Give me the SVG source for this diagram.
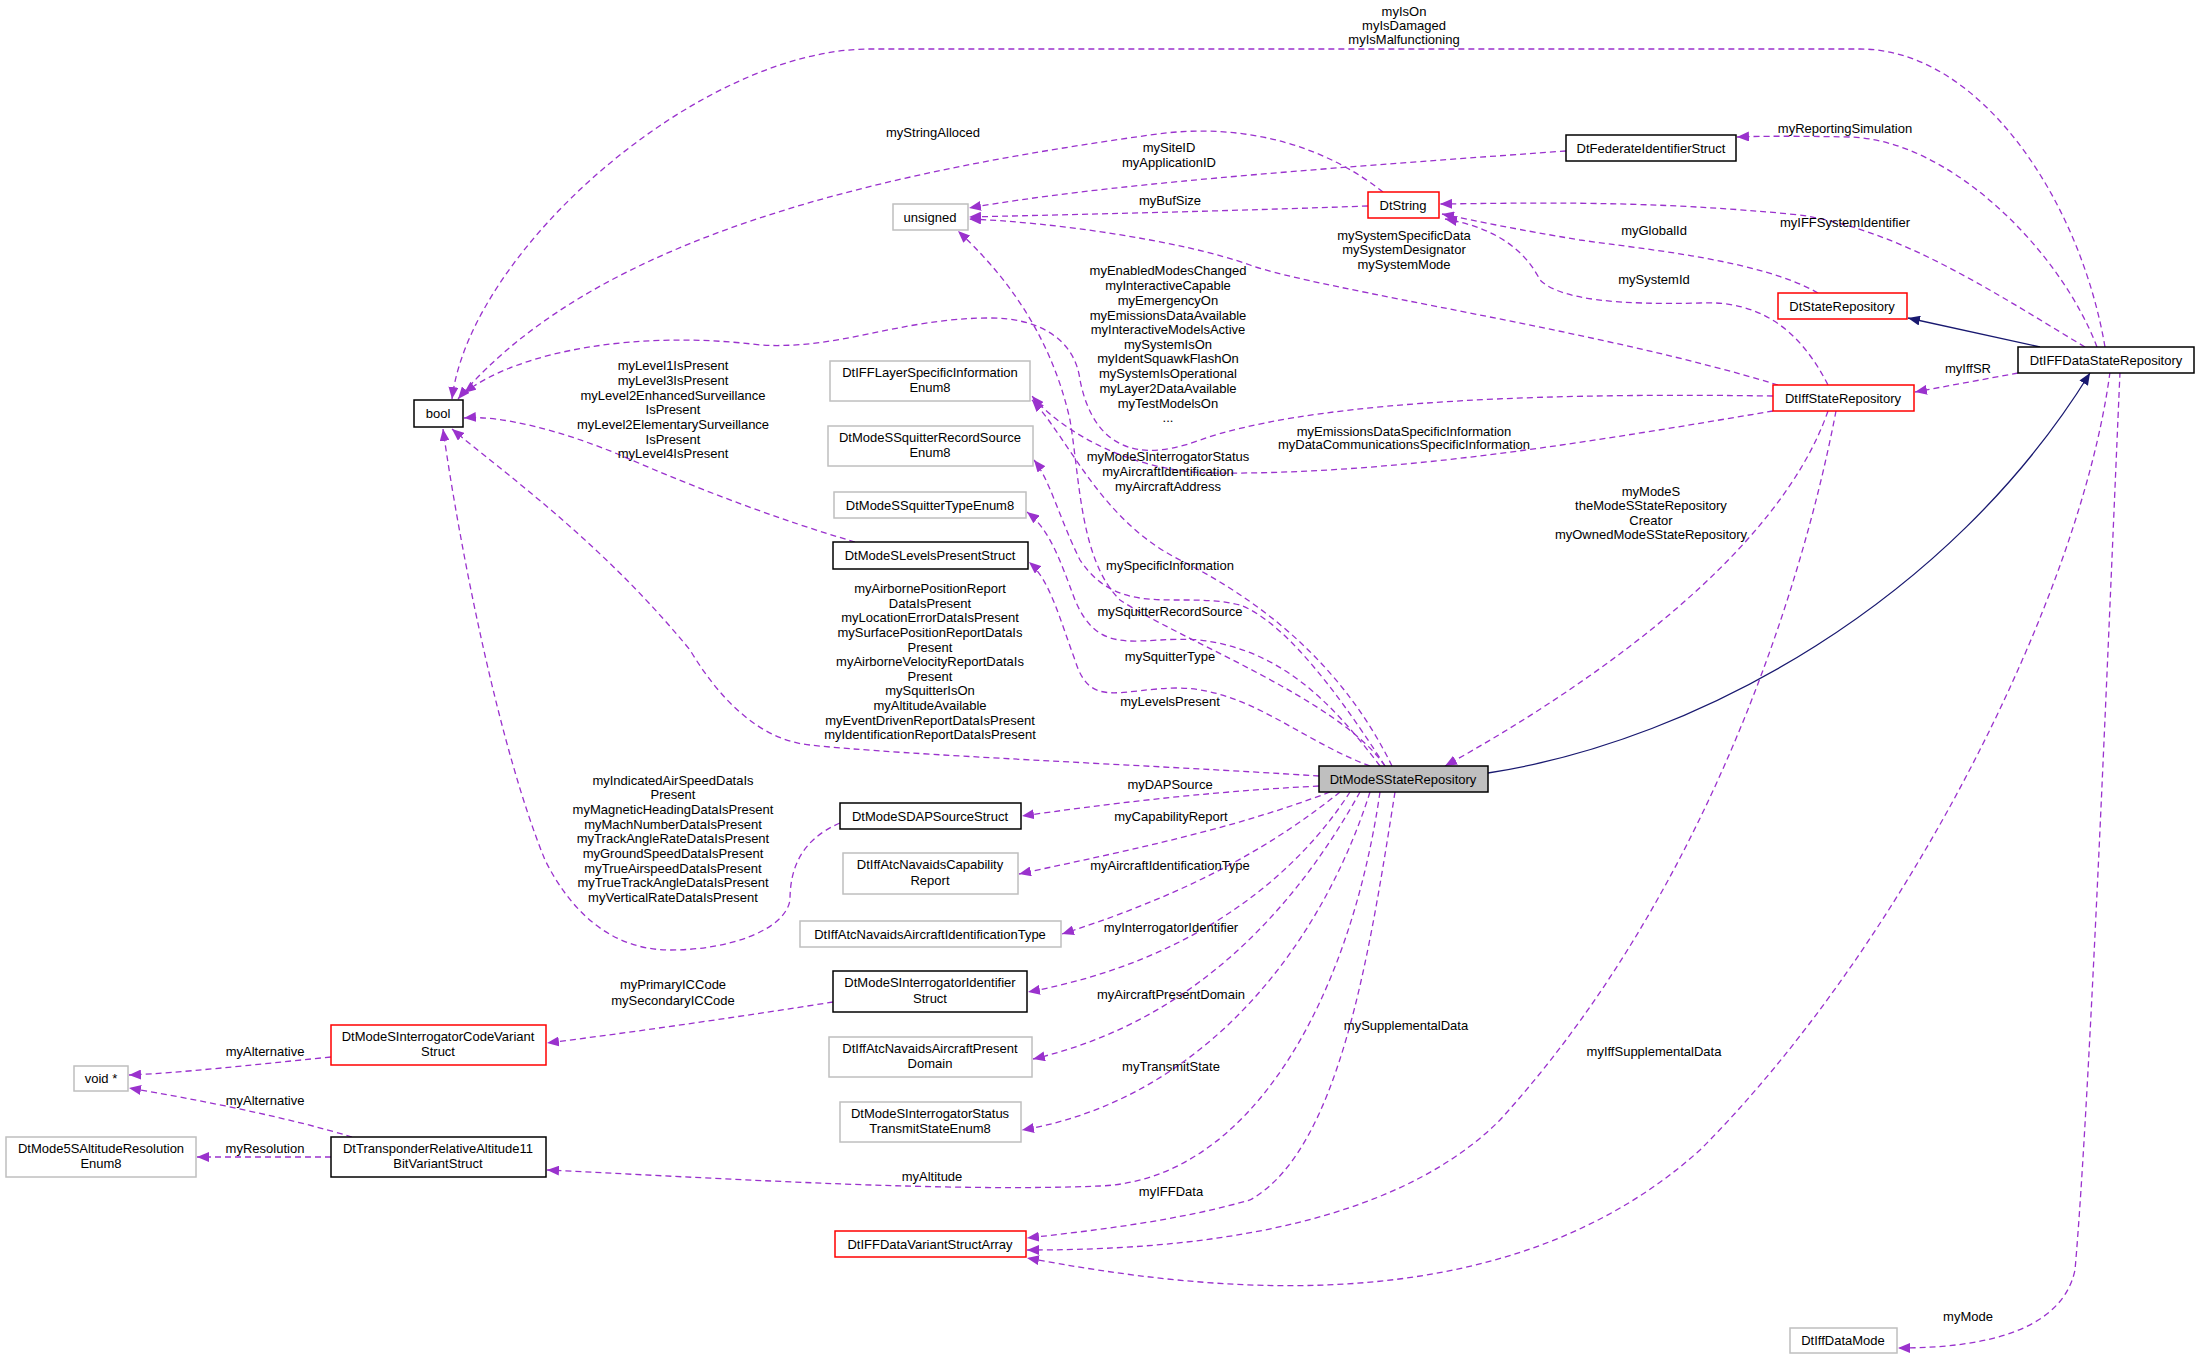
<svg xmlns="http://www.w3.org/2000/svg" width="2211" height="1360" viewBox="0 0 2211 1360">
<defs>
<marker id="ap" markerUnits="userSpaceOnUse" markerWidth="12" markerHeight="10" refX="12" refY="5" orient="auto"><path d="M0,0 L12,5 L0,10 z" fill="#9a32cd"/></marker>
<marker id="an" markerUnits="userSpaceOnUse" markerWidth="12" markerHeight="10" refX="12" refY="5" orient="auto"><path d="M0,0 L12,5 L0,10 z" fill="#191970"/></marker>
</defs>
<style>
text{font-family:"Liberation Sans",Arial,sans-serif;font-size:13px;fill:#000;text-anchor:middle}
.n rect{fill:#fff;stroke-width:1.5}
.b rect{stroke:#000}
.g rect{stroke:#bfbfbf}
.r rect{stroke:#ff0000}
.e path{fill:none;stroke:#9a32cd;stroke-width:1.3;stroke-dasharray:6,4;marker-end:url(#ap)}
.e path.i{stroke:#191970;stroke-dasharray:none;marker-end:url(#an)}
</style>
<rect width="2211" height="1360" fill="#fff"/>
<g id="edges" class="e">
<path d="M2105,347 C2080,200 1980,49 1860,49 L870,49 C700,49 470,250 452,399"/>
<path d="M1383,192 C1330,150 1250,120 1150,135 C900,170 600,230 458,399"/>
<path d="M1566,151 C1300,170 1100,185 969,208"/>
<path d="M1368,206 C1200,212 1050,215 969,217"/>
<path d="M1778,385 C1600,330 1320,290 1250,265 C1180,240 1050,222 969,219"/>
<path d="M2097,347 C2060,250 1950,140 1850,137 C1800,136 1760,136 1737,137"/>
<path d="M2085,347 C1990,290 1900,230 1800,215 C1650,200 1530,203 1440,204"/>
<path d="M1818,293 C1760,260 1650,250 1580,240 C1520,230 1480,222 1442,214"/>
<path d="M1828,385 C1800,330 1760,300 1700,303 C1620,305 1560,300 1540,280 C1520,240 1480,225 1445,219"/>
<path class="i" d="M2040,347 L1908,318"/>
<path d="M2018,373 L1915,392"/>
<path d="M1773,396 C1500,392 1300,405 1200,440 C1120,470 1090,430 1080,380 C1075,340 1040,318 990,318 C900,318 840,350 760,345 C640,330 520,350 464,393"/>
<path d="M1773,411 C1600,440 1400,475 1213,473 C1130,472 1060,430 1032,396"/>
<path d="M1385,766 C1340,700 1180,640 1120,600 C1080,560 1080,480 1070,420 C1050,330 1000,270 958,231"/>
<path d="M1392,766 C1350,680 1280,610 1180,560 C1100,520 1070,440 1032,400"/>
<path d="M1385,766 C1330,680 1280,620 1240,605 C1180,590 1120,620 1080,560 C1060,520 1050,480 1034,460"/>
<path d="M1380,766 C1330,700 1280,650 1200,640 C1140,635 1100,660 1075,600 C1060,560 1050,530 1027,512"/>
<path d="M1370,766 C1300,740 1250,690 1180,688 C1120,688 1090,710 1075,660 C1060,620 1050,580 1029,562"/>
<path d="M855,542 C780,520 700,490 620,455 C560,430 500,415 464,418"/>
<path d="M1319,776 C1150,765 900,755 810,745 C760,740 720,700 690,650 C600,540 500,470 452,429"/>
<path d="M1319,786 C1200,792 1100,805 1022,816"/>
<path d="M840,823 C800,840 790,870 790,900 C785,930 730,950 670,950 C610,950 570,910 545,860 C500,750 460,550 443,429"/>
<path d="M1330,792 C1230,830 1130,850 1019,874"/>
<path d="M1340,792 C1280,840 1200,890 1062,934"/>
<path d="M1350,792 C1300,870 1200,960 1028,992"/>
<path d="M833,1002 C750,1015 650,1030 547,1043"/>
<path d="M331,1057 C250,1065 180,1073 129,1075"/>
<path d="M352,1137 C290,1118 200,1100 129,1088"/>
<path d="M331,1157 L197,1157"/>
<path d="M1360,792 C1300,900 1200,1020 1033,1059"/>
<path d="M1370,792 C1320,950 1200,1100 1022,1130"/>
<path d="M1380,792 C1350,1000 1250,1180 1100,1186 C950,1192 750,1180 547,1170"/>
<path d="M1395,792 C1370,950 1340,1150 1250,1200 C1180,1220 1100,1230 1027,1238"/>
<path d="M1836,411 C1800,600 1700,900 1500,1120 C1380,1240 1150,1250 1027,1250"/>
<path d="M2110,372 C2080,600 1900,950 1700,1150 C1500,1330 1200,1290 1027,1258"/>
<path d="M2120,372 C2110,600 2090,1100 2075,1270 C2060,1340 1960,1348 1898,1348"/>
<path d="M1828,411 C1780,550 1600,680 1445,766"/>
<path class="i" d="M1488,773 C1700,740 1950,600 2090,373"/>
</g>
<g id="labels">
<text x="1404" y="16">myIsOn</text><text x="1404" y="30">myIsDamaged</text><text x="1404" y="44">myIsMalfunctioning</text>
<text x="933" y="137">myStringAlloced</text>
<text x="1169" y="152">mySiteID</text><text x="1169" y="167">myApplicationID</text>
<text x="1170" y="205">myBufSize</text>
<text x="1404" y="240">mySystemSpecificData</text><text x="1404" y="254">mySystemDesignator</text><text x="1404" y="269">mySystemMode</text>
<text x="1845" y="133">myReportingSimulation</text>
<text x="1845" y="227">myIFFSystemIdentifier</text>
<text x="1654" y="235">myGlobalId</text>
<text x="1654" y="284">mySystemId</text>
<text x="1968" y="373">myIffSR</text>
<text x="1168" y="275">myEnabledModesChanged</text><text x="1168" y="290">myInteractiveCapable</text><text x="1168" y="305">myEmergencyOn</text><text x="1168" y="320">myEmissionsDataAvailable</text><text x="1168" y="334">myInteractiveModelsActive</text><text x="1168" y="349">mySystemIsOn</text><text x="1168" y="363">myIdentSquawkFlashOn</text><text x="1168" y="378">mySystemIsOperational</text><text x="1168" y="393">myLayer2DataAvailable</text><text x="1168" y="408">myTestModelsOn</text><text x="1168" y="422">...</text>
<text x="1404" y="436">myEmissionsDataSpecificInformation</text><text x="1404" y="449">myDataCommunicationsSpecificInformation</text>
<text x="1168" y="461">myModeSInterrogatorStatus</text><text x="1168" y="476">myAircraftIdentification</text><text x="1168" y="491">myAircraftAddress</text>
<text x="1651" y="496">myModeS</text><text x="1651" y="510">theModeSStateRepository</text><text x="1651" y="525">Creator</text><text x="1651" y="539">myOwnedModeSStateRepository</text>
<text x="1170" y="570">mySpecificInformation</text>
<text x="1170" y="616">mySquitterRecordSource</text>
<text x="1170" y="661">mySquitterType</text>
<text x="1170" y="706">myLevelsPresent</text>
<text x="673" y="370">myLevel1IsPresent</text><text x="673" y="385">myLevel3IsPresent</text><text x="673" y="400">myLevel2EnhancedSurveillance</text><text x="673" y="414">IsPresent</text><text x="673" y="429">myLevel2ElementarySurveillance</text><text x="673" y="444">IsPresent</text><text x="673" y="458">myLevel4IsPresent</text>
<text x="930" y="593">myAirbornePositionReport</text><text x="930" y="608">DataIsPresent</text><text x="930" y="622">myLocationErrorDataIsPresent</text><text x="930" y="637">mySurfacePositionReportDataIs</text><text x="930" y="652">Present</text><text x="930" y="666">myAirborneVelocityReportDataIs</text><text x="930" y="681">Present</text><text x="930" y="695">mySquitterIsOn</text><text x="930" y="710">myAltitudeAvailable</text><text x="930" y="725">myEventDrivenReportDataIsPresent</text><text x="930" y="739">myIdentificationReportDataIsPresent</text>
<text x="1170" y="789">myDAPSource</text>
<text x="673" y="785">myIndicatedAirSpeedDataIs</text><text x="673" y="799">Present</text><text x="673" y="814">myMagneticHeadingDataIsPresent</text><text x="673" y="829">myMachNumberDataIsPresent</text><text x="673" y="843">myTrackAngleRateDataIsPresent</text><text x="673" y="858">myGroundSpeedDataIsPresent</text><text x="673" y="873">myTrueAirspeedDataIsPresent</text><text x="673" y="887">myTrueTrackAngleDataIsPresent</text><text x="673" y="902">myVerticalRateDataIsPresent</text>
<text x="1171" y="821">myCapabilityReport</text>
<text x="1170" y="870">myAircraftIdentificationType</text>
<text x="1171" y="932">myInterrogatorIdentifier</text>
<text x="673" y="989">myPrimaryICCode</text><text x="673" y="1005">mySecondaryICCode</text>
<text x="265" y="1056">myAlternative</text>
<text x="265" y="1105">myAlternative</text>
<text x="265" y="1153">myResolution</text>
<text x="1171" y="999">myAircraftPresentDomain</text>
<text x="1171" y="1071">myTransmitState</text>
<text x="1406" y="1030">mySupplementalData</text>
<text x="1654" y="1056">myIffSupplementalData</text>
<text x="932" y="1181">myAltitude</text>
<text x="1171" y="1196">myIFFData</text>
<text x="1968" y="1321">myMode</text>
</g>
<g id="bool" class="n b"><rect x="414" y="400" width="49" height="27"/><text x="438" y="418">bool</text></g>
<g id="unsigned" class="n g"><rect x="893" y="204" width="75" height="26"/><text x="930" y="222">unsigned</text></g>
<g id="DtIFFLayerSpecificInformationEnum8" class="n g"><rect x="830" y="361" width="200" height="40"/><text x="930" y="377">DtIFFLayerSpecificInformation</text><text x="930" y="392">Enum8</text></g>
<g id="DtModeSSquitterRecordSourceEnum8" class="n g"><rect x="828" y="426" width="205" height="40"/><text x="930" y="442">DtModeSSquitterRecordSource</text><text x="930" y="457">Enum8</text></g>
<g id="DtModeSSquitterTypeEnum8" class="n g"><rect x="834" y="492" width="192" height="26"/><text x="930" y="510">DtModeSSquitterTypeEnum8</text></g>
<g id="DtModeSLevelsPresentStruct" class="n b"><rect x="833" y="542" width="195" height="27"/><text x="930" y="560">DtModeSLevelsPresentStruct</text></g>
<g id="DtFederateIdentifierStruct" class="n b"><rect x="1566" y="135" width="170" height="26"/><text x="1651" y="153">DtFederateIdentifierStruct</text></g>
<g id="DtString" class="n r"><rect x="1368" y="192" width="71" height="26"/><text x="1403" y="210">DtString</text></g>
<g id="DtStateRepository" class="n r"><rect x="1778" y="293" width="129" height="26"/><text x="1842" y="311">DtStateRepository</text></g>
<g id="DtIFFDataStateRepository" class="n b"><rect x="2018" y="347" width="176" height="26"/><text x="2106" y="365">DtIFFDataStateRepository</text></g>
<g id="DtIffStateRepository" class="n r"><rect x="1773" y="385" width="141" height="26"/><text x="1843" y="403">DtIffStateRepository</text></g>
<g id="DtModeSStateRepository" class="n b"><rect x="1319" y="766" width="169" height="26" style="fill:#bfbfbf"/><text x="1403" y="784">DtModeSStateRepository</text></g>
<g id="DtModeSDAPSourceStruct" class="n b"><rect x="840" y="803" width="181" height="26"/><text x="930" y="821">DtModeSDAPSourceStruct</text></g>
<g id="DtIffAtcNavaidsCapabilityReport" class="n g"><rect x="843" y="853" width="175" height="41"/><text x="930" y="869">DtIffAtcNavaidsCapability</text><text x="930" y="885">Report</text></g>
<g id="DtIffAtcNavaidsAircraftIdentificationType" class="n g"><rect x="800" y="921" width="261" height="26"/><text x="930" y="939">DtIffAtcNavaidsAircraftIdentificationType</text></g>
<g id="DtModeSInterrogatorIdentifierStruct" class="n b"><rect x="833" y="971" width="194" height="41"/><text x="930" y="987">DtModeSInterrogatorIdentifier</text><text x="930" y="1003">Struct</text></g>
<g id="DtModeSInterrogatorCodeVariantStruct" class="n r"><rect x="331" y="1025" width="215" height="40"/><text x="438" y="1041">DtModeSInterrogatorCodeVariant</text><text x="438" y="1056">Struct</text></g>
<g id="void" class="n g"><rect x="74" y="1066" width="54" height="25"/><text x="101" y="1083">void *</text></g>
<g id="DtIffAtcNavaidsAircraftPresentDomain" class="n g"><rect x="829" y="1037" width="203" height="40"/><text x="930" y="1053">DtIffAtcNavaidsAircraftPresent</text><text x="930" y="1068">Domain</text></g>
<g id="DtModeSInterrogatorStatusTransmitStateEnum8" class="n g"><rect x="840" y="1102" width="181" height="40"/><text x="930" y="1118">DtModeSInterrogatorStatus</text><text x="930" y="1133">TransmitStateEnum8</text></g>
<g id="DtMode5SAltitudeResolutionEnum8" class="n g"><rect x="6" y="1137" width="190" height="40"/><text x="101" y="1153">DtMode5SAltitudeResolution</text><text x="101" y="1168">Enum8</text></g>
<g id="DtTransponderRelativeAltitude11BitVariantStruct" class="n b"><rect x="331" y="1137" width="215" height="40"/><text x="438" y="1153">DtTransponderRelativeAltitude11</text><text x="438" y="1168">BitVariantStruct</text></g>
<g id="DtIFFDataVariantStructArray" class="n r"><rect x="835" y="1231" width="191" height="26"/><text x="930" y="1249">DtIFFDataVariantStructArray</text></g>
<g id="DtIffDataMode" class="n g"><rect x="1790" y="1328" width="107" height="25"/><text x="1843" y="1345">DtIffDataMode</text></g>
</svg>
